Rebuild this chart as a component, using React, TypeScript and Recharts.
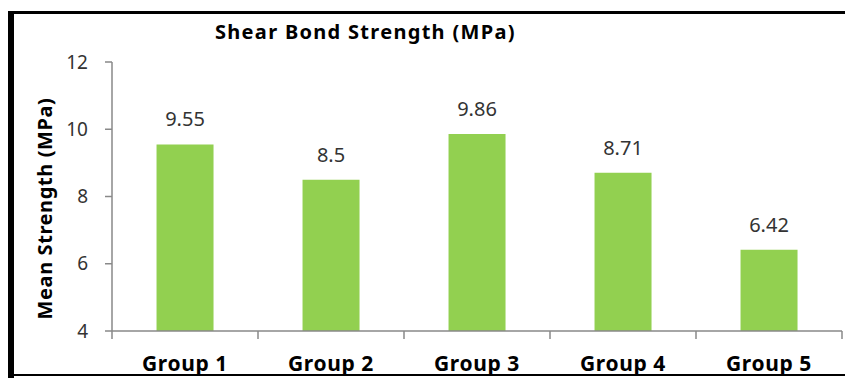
import React from 'react';
import { BarChart, Bar, XAxis, YAxis, LabelList, Label } from 'recharts';

const groups = ['Group 1', 'Group 2', 'Group 3', 'Group 4', 'Group 5'];
const meanStrength = [9.55, 8.5, 9.86, 8.71, 6.42];
const yTicks = [4, 6, 8, 10, 12];

const chartData = groups.map((group, i) => ({ group, value: meanStrength[i] }));

const FONT = '"Noto Sans", "Open Sans", sans-serif';
const AXIS_GRAY = '#898989';

const YTitle = (props: any) => {
    const { viewBox } = props;
    const cx = viewBox.x + 44;
    const cy = viewBox.y + viewBox.height / 2 + 12;
    return (
        <text
            x={cx}
            y={cy}
            transform={`rotate(-90, ${cx}, ${cy})`}
            textAnchor="middle"
            dominantBaseline="central"
            fontFamily={FONT}
            fontSize={20}
            fontWeight="bold"
            letterSpacing={0.6}
            fill="#000"
        >
            Mean Strength (MPa)
        </text>
    );
};

// category label plus Excel-style tick marks on the band edges
const GroupTick = (props: any) => {
    const { x, y, payload, index, visibleTicksCount } = props;
    const half = payload.offset || 0;
    const axisY = y - 25;
    const last = index === visibleTicksCount - 1;
    return (
        <g>
            <line x1={x - half} x2={x - half} y1={axisY} y2={axisY + 8} stroke={AXIS_GRAY} strokeWidth={1.5} />
            {last && <line x1={x + half} x2={x + half} y1={axisY} y2={axisY + 8} stroke={AXIS_GRAY} strokeWidth={1.5} />}
            <text
                x={x}
                y={y}
                dy={15}
                textAnchor="middle"
                fontFamily={FONT}
                fontSize={21}
                fontWeight="bold"
                letterSpacing={0.6}
                fill="#000"
            >
                {payload.value}
            </text>
        </g>
    );
};

export default function App() {
    return (
        <div style={{ position: 'fixed', left: 0, top: 0, width: 845, height: 378, background: '#fff', overflow: 'hidden' }}>
            {/* frame */}
            <div style={{ position: 'absolute', left: 8, top: 11, width: 6, height: 367, background: '#000' }} />
            <div style={{ position: 'absolute', left: 8, top: 11, width: 837, height: 3, background: '#000' }} />

            <div
                style={{
                    position: 'absolute',
                    left: 215,
                    top: 18,
                    fontFamily: FONT,
                    fontSize: 20,
                    fontWeight: 'bold',
                    letterSpacing: 1.3,
                    color: '#000',
                    whiteSpace: 'nowrap',
                }}
            >
                Shear Bond Strength (MPa)
            </div>

            <div style={{ position: 'absolute', left: 0, top: 0 }}>
                <BarChart
                    width={845}
                    height={378}
                    data={chartData}
                    margin={{ top: 62, right: 3, left: 0, bottom: 0 }}
                    barCategoryGap="30.5%"
                >
                    <XAxis
                        dataKey="group"
                        height={47}
                        axisLine={{ stroke: AXIS_GRAY, strokeWidth: 1.5 }}
                        tickLine={false}
                        tickSize={0}
                        tickMargin={25}
                        interval={0}
                        tick={GroupTick}
                    />
                    <YAxis
                        width={112}
                        domain={[4, 12]}
                        ticks={yTicks}
                        interval={0}
                        axisLine={{ stroke: AXIS_GRAY, strokeWidth: 1.5 }}
                        tickLine={{ stroke: AXIS_GRAY, strokeWidth: 1.5 }}
                        tickSize={7}
                        tickMargin={17}
                        tick={{ fontFamily: FONT, fontSize: 19, fill: '#333' }}
                    >
                        <Label content={YTitle} />
                    </YAxis>
                    <Bar dataKey="value" fill="#92D050" isAnimationActive={false}>
                        <LabelList
                            dataKey="value"
                            position="top"
                            offset={18}
                            style={{ fontFamily: FONT, fontSize: 20, fill: '#333' }}
                        />
                    </Bar>
                </BarChart>
            </div>
            <div style={{ position: 'absolute', left: 8, top: 374, width: 837, height: 2, background: '#000' }} />
        </div>
    );
}
